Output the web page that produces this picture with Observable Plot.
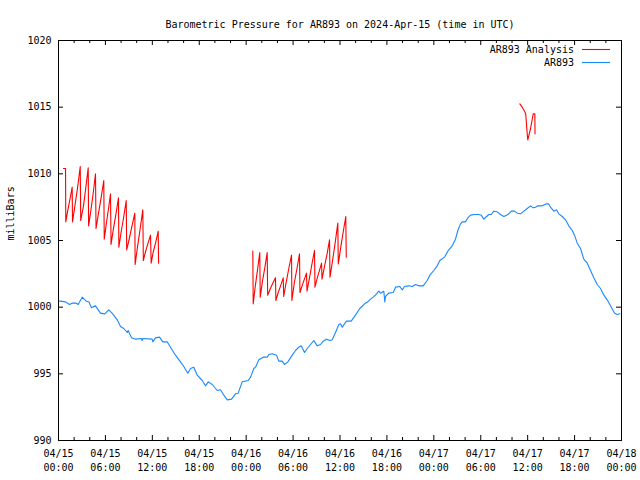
<!DOCTYPE html>
<html>
<head>
<meta charset="utf-8">
<script src="https://cdn.jsdelivr.net/npm/d3@7"></script>
<script src="https://cdn.jsdelivr.net/npm/@observablehq/plot@0.6"></script>
<style>
  html, body { margin: 0; padding: 0; background: #fff; }
</style>
</head>
<body>
<div id="chart"></div>
<script>
const titleText = "Barometric Pressure for AR893 on 2024-Apr-15 (time in UTC)";
const yLabel = "milliBars";
const seriesNames = ["AR893 Analysis", "AR893"];
const seriesColors = ["#ff0000", "#1a88ff"];

// hours since 04/15 00:00 UTC
const xTicks = [0, 6, 12, 18, 24, 30, 36, 42, 48, 54, 60, 66, 72];
const xTickLabels = ["04/15\n00:00", "04/15\n06:00", "04/15\n12:00", "04/15\n18:00",
  "04/16\n00:00", "04/16\n06:00", "04/16\n12:00", "04/16\n18:00",
  "04/17\n00:00", "04/17\n06:00", "04/17\n12:00", "04/17\n18:00", "04/18\n00:00"];
const xMinorTicks = [2, 4, 8, 10, 14, 16, 20, 22, 26, 28, 32, 34, 38, 40, 44, 46, 50, 52, 56, 58, 62, 64, 68, 70];
const yTicks = [990, 995, 1000, 1005, 1010, 1015, 1020];
const yTickLabels = ["990", "995", "1000", "1005", "1010", "1015", "1020"];

// AR893 observed
const obsHours = [0, 0.26, 0.9, 1.4, 1.75, 2.26, 2.52, 3.03, 3.54, 3.88, 4.22, 4.73, 5.37, 5.92, 6.43, 6.94, 7.51, 7.93, 8.35, 8.79, 8.91, 9.34, 9.85, 10.6, 10.7, 10.8, 11.98, 12.06, 12.4, 12.92, 13.34, 13.9, 14.32, 14.96, 15.6, 16.02, 16.54, 16.88, 17.3, 17.74, 18.38, 18.8, 19.15, 19.66, 20.3, 20.72, 21.14, 21.58, 22.13, 22.64, 22.98, 23.49, 24.26, 24.56, 24.98,
  25.2, 25.62, 26.18, 26.69, 26.9, 27.33, 27.88, 28.17, 28.61, 28.9, 29.33, 29.89, 30.31, 30.73, 31.04, 31.46, 31.81, 32.23, 32.65, 33.09, 33.51, 33.85, 34.28, 34.7, 35.0, 35.43, 35.85, 36.07, 36.28, 36.83, 37.43, 37.98, 38.53, 39.14, 39.56, 39.9, 40.25, 40.67, 40.96, 41.18, 41.6, 41.73, 41.82, 42.24, 42.81, 43.1, 43.65, 43.96, 44.25, 44.8, 45.24, 45.66, 46.08, 46.64,
  47.15, 47.49, 48.0, 48.43, 48.77, 49.37, 49.79, 50.35, 50.77, 51.07, 51.41, 51.63, 52.05, 52.35, 52.69, 53.2, 53.75, 54.06, 54.39, 54.74, 55.03, 55.34, 55.67, 56.1, 56.53, 56.95, 57.3, 57.59, 57.9, 58.32, 58.67, 59.09, 59.51, 59.94, 60.37, 60.71, 61.0, 61.3, 61.86, 62.41, 62.67, 62.92, 63.35, 63.69, 63.98, 64.42, 64.84, 65.26, 65.7, 65.99, 66.34, 66.76, 67.18, 67.62, 68.04, 68.46, 68.9, 69.32, 69.74, 70.17, 70.6, 71.11, 71.45, 71.78];
const obsValues = [1000.45, 1000.45, 1000.4, 1000.2, 1000.3, 1000.3, 1000.2, 1000.75, 1000.45, 1000.4, 999.95, 1000.1, 999.55, 999.5, 999.8, 999.5, 999.05, 998.55, 998.4, 998.1, 998.25, 997.7, 997.6, 997.65, 997.5, 997.65, 997.6, 997.4, 997.7, 997.75, 997.4, 997.4, 997.0, 996.4, 995.9, 995.55, 995.05, 995.4, 995.5, 994.9, 994.5, 994.1, 994.4, 994.2, 993.75, 993.8, 993.4, 993.05, 993.1, 993.5, 993.55, 994.4, 994.5, 994.75, 995.4,
  995.5, 996.05, 996.25, 996.25, 996.45, 996.5, 996.4, 995.95, 995.95, 995.7, 995.9, 996.4, 996.75, 997.0, 997.1, 996.6, 996.9, 997.2, 997.5, 997.1, 997.2, 997.45, 997.6, 997.5, 997.55, 998.1, 998.7, 998.75, 998.5, 998.95, 998.95, 999.4, 999.9, 1000.25, 1000.4, 1000.6, 1000.75, 1001.0, 1001.2, 1001.05, 1001.2, 1000.4, 1000.8, 1001.05, 1001.1, 1001.5, 1001.55, 1001.3, 1001.55, 1001.6, 1001.55, 1001.7, 1001.6, 1001.6,
  1002.0, 1002.4, 1002.75, 1003.1, 1003.5, 1003.75, 1004.2, 1004.6, 1005.1, 1005.75, 1006.25, 1006.4, 1006.4, 1006.7, 1006.9, 1006.95, 1006.95, 1006.9, 1006.6, 1006.8, 1006.95, 1006.95, 1007.2, 1007.15, 1006.95, 1006.8, 1006.9, 1007.0, 1007.2, 1007.2, 1007.05, 1007.0, 1007.2, 1007.4, 1007.6, 1007.45, 1007.5, 1007.6, 1007.6, 1007.75, 1007.75, 1007.5, 1007.2, 1007.3, 1007.0, 1006.8, 1006.55, 1006.1, 1005.75, 1005.4, 1004.8, 1004.4, 1003.6, 1003.3, 1002.75, 1002.2, 1001.7, 1001.4, 1000.9, 1000.55, 1000.1, 999.55, 999.45, 999.5];

// AR893 Analysis (null breaks the line)
const anaHours = [0.64, 0.9, 0.93, 1.2, 1.5, 1.75, 1.79, 2.1, 2.45, 2.78, 2.84, 3.2, 3.5, 3.8, 3.85, 4.15, 4.45, 4.73, 4.8, 5.1, 5.45, 5.79, 5.85, 6.1, 6.4, 6.65, 6.72, 7.0, 7.35, 7.67, 7.72, 8.0, 8.35, 8.66, 8.72, 9.0, 9.4, 9.76, 9.8, 10.1, 10.45, 10.78, 10.85, 11.1, 11.45, 11.77, 11.85, 12.1, 12.45, 12.75, 12.8,
  13,
  24.85, 24.9, 25.15, 25.45, 25.74, 25.8, 26.1, 26.4, 26.69, 26.75, 27.1, 27.4, 27.75, 27.8, 28.1, 28.4, 28.74, 28.8, 29.1, 29.45, 29.8, 29.85, 30.15, 30.5, 30.82, 30.88, 31.15, 31.45, 31.72, 31.78, 32.1, 32.4, 32.74, 32.8, 33.05, 33.35, 33.64, 33.7, 34.0, 34.35, 34.66, 34.72, 35.05, 35.4, 35.72, 35.78, 36.1, 36.4, 36.74, 36.8,
  37,
  59.0, 59.3, 59.6, 59.76, 59.94, 60.02, 60.37, 60.71, 60.92, 60.94];
const anaValues = [1010.4, 1010.4, 1006.4, 1007.3, 1008.2, 1009.0, 1006.4, 1007.6, 1009.0, 1010.55, 1006.5, 1007.6, 1009.0, 1010.45, 1006.1, 1007.3, 1008.6, 1010.0, 1005.9, 1007.0, 1008.2, 1009.5, 1005.1, 1006.2, 1007.4, 1008.5, 1004.7, 1005.8, 1007.0, 1008.2, 1004.5, 1005.6, 1006.8, 1008.0, 1004.3, 1005.0, 1006.1, 1007.05, 1003.2, 1004.5, 1005.9, 1007.3, 1003.5, 1004.1, 1004.8, 1005.4, 1003.3, 1004.1, 1004.9, 1005.7, 1003.3,
  null,
  1004.2, 1000.25, 1001.5, 1002.8, 1004.1, 1000.75, 1002.0, 1003.0, 1004.1, 1000.9, 1001.4, 1001.8, 1002.2, 1000.5, 1001.1, 1001.6, 1002.2, 1000.8, 1001.8, 1002.9, 1003.9, 1000.5, 1001.8, 1002.9, 1004.0, 1001.1, 1001.6, 1002.1, 1002.55, 1001.2, 1002.2, 1003.2, 1004.25, 1001.5, 1002.1, 1002.7, 1003.3, 1002.1, 1003.0, 1004.0, 1005.05, 1002.25, 1003.5, 1004.9, 1006.3, 1003.25, 1004.5, 1005.6, 1006.8, 1003.75,
  null,
  1015.25, 1015.0, 1014.7, 1014.45, 1013.0, 1012.55, 1013.4, 1014.5, 1014.5, 1013.0];

const obs = obsHours.map((h, i) => ({h, v: obsValues[i]}));
const ana = anaHours.map((h, i) => ({h, v: anaValues[i]}));

const W = 640, H = 480, mL = 58, mR = 19, mT = 40, mB = 40;
const plotW = W - mL - mR, plotH = H - mT - mB;
const majorLen = 5, minorLen = 3;

const plot = Plot.plot({
  width: W, height: H,
  marginLeft: mL, marginRight: mR, marginTop: mT, marginBottom: mB,
  style: {fontFamily: "'DejaVu Sans Mono', monospace", fontSize: "10px", background: "#fff", color: "#000", overflow: "visible"},
  x: {domain: [0, 72]},
  y: {domain: [990, 1020]},
  marks: [
    Plot.axisX({ticks: xTicks, tickFormat: d => xTickLabels[xTicks.indexOf(d)], tickSize: 0, tickPadding: 7, label: null, lineHeight: 1.4, fill: "#000"}),
    Plot.axisY({ticks: yTicks, tickFormat: d => yTickLabels[yTicks.indexOf(d)], tickSize: 0, tickPadding: 7, label: null, fill: "#000"}),
    Plot.tickX(xTicks, {x: d => d, insetTop: plotH - majorLen, stroke: "#000"}),
    Plot.tickX(xTicks, {x: d => d, insetBottom: plotH - majorLen, stroke: "#000"}),
    Plot.tickX(xMinorTicks, {x: d => d, insetTop: plotH - minorLen, stroke: "#000"}),
    Plot.tickX(xMinorTicks, {x: d => d, insetBottom: plotH - minorLen, stroke: "#000"}),
    Plot.tickY(yTicks, {y: d => d, insetRight: plotW - majorLen, stroke: "#000"}),
    Plot.tickY(yTicks, {y: d => d, insetLeft: plotW - majorLen, stroke: "#000"}),
    Plot.line(ana, {x: "h", y: "v", stroke: seriesColors[0], strokeWidth: 1.1}),
    Plot.line(obs, {x: "h", y: "v", stroke: seriesColors[1], strokeWidth: 1.1}),
    Plot.frame({stroke: "#000"}),
    Plot.text([titleText], {frameAnchor: "top", dy: -20, fill: "#000"}),
    Plot.text([yLabel], {frameAnchor: "left", dx: -48, rotate: -90, fill: "#000"})
  ]
});

// legend (top-right, gnuplot style)
const svg = d3.select(plot);
const legX = W - mR - 47;
seriesNames.forEach((name, i) => {
  const y = mT + 10 + i * 13;
  svg.append("text").attr("x", legX).attr("y", y).attr("dy", "0.32em")
    .attr("text-anchor", "end").attr("fill", "#000").text(name);
  svg.append("line").attr("x1", legX + 8).attr("x2", legX + 36)
    .attr("y1", y - 0.5).attr("y2", y - 0.5)
    .attr("stroke", seriesColors[i]).attr("stroke-width", 1.1);
});

document.getElementById("chart").appendChild(plot);
</script>
</body>
</html>
